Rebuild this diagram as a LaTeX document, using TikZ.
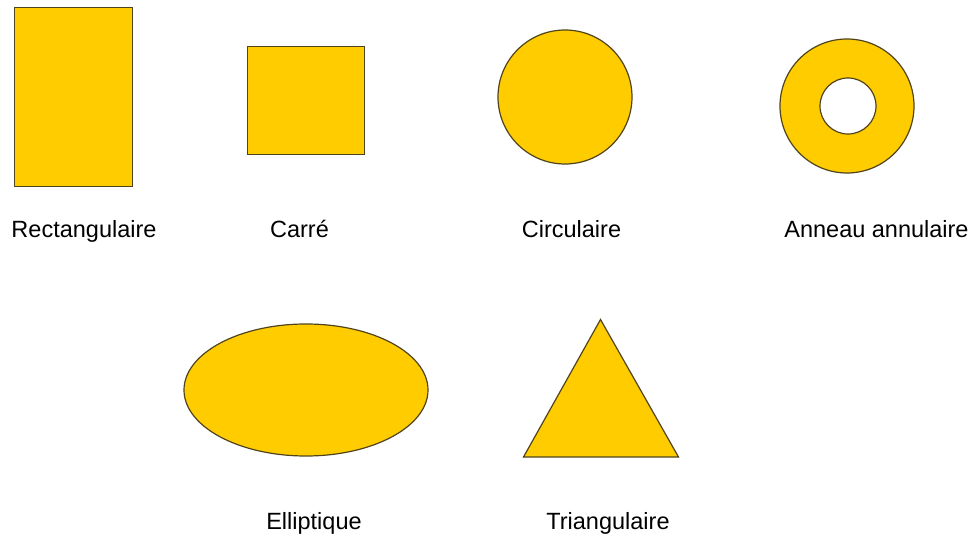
\documentclass[tikz,border=0pt]{standalone}
\usepackage{fontspec}
\setmainfont{Liberation Sans}
\usetikzlibrary{positioning}
\definecolor{shapefill}{RGB}{255,204,0}
\definecolor{shapeline}{RGB}{80,68,28}

\begin{document}
\begin{tikzpicture}[x=1pt, y=-1pt,
  forme/.style={draw=shapeline, fill=shapefill, line width=1.2pt},
  legende/.style={font=\fontsize{23.5}{28}\selectfont, anchor=base, inner sep=0pt},
]
  \useasboundingbox (0,0) rectangle (975,537);

  % formes
  \draw[forme] (14.5,7.5) rectangle (132.5,186.5);
  \draw[forme] (247.5,46.5) rectangle (364.5,154.5);
  \draw[forme] (565,97) circle [radius=67];
  \draw[forme, even odd rule] (847,106) circle [radius=67] (848,106) circle [radius=28];
  \draw[forme] (306,390) ellipse [x radius=122, y radius=66];
  \draw[forme] (600.5,319.5) -- (523.5,457) -- (678.5,457) -- cycle;

  % legendes
  \node[legende] (rect) at (84,237.5) {Rectangulaire};
  \node[legende] (carre) at (299.5,237.5) {Carré};
  \node[legende] (circ) at (571.5,237.5) {Circulaire};
  \node[legende] (anneau) at (876.5,237.5) {Anneau annulaire};
  \node[legende] (ellip) at (314,529.5) {Elliptique};
  \node[legende] (tri) at (608,529.5) {Triangulaire};
\end{tikzpicture}
\end{document}
